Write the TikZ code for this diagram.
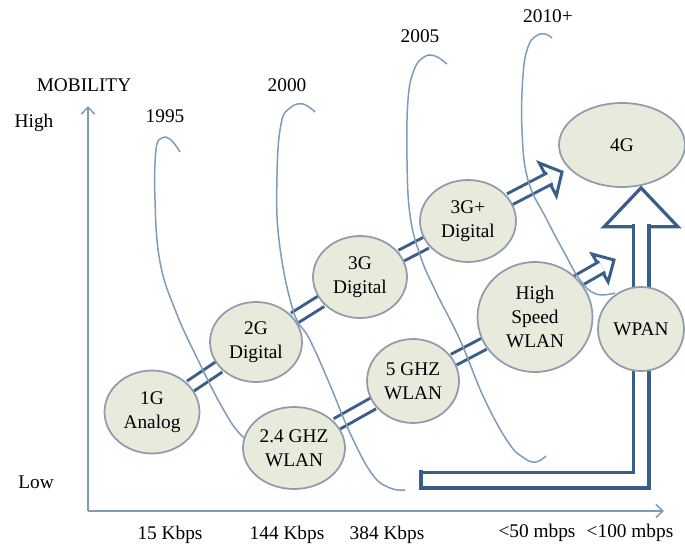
\documentclass[tikz,border=0pt]{standalone}
\usepackage{fontspec}
\setmainfont{Liberation Serif}
\usepackage{xcolor}
\usepackage{tikz}
\usetikzlibrary{positioning,calc,backgrounds,shapes.geometric,arrows.meta}
\definecolor{EraGrey}{HTML}{7F9BBA}
\definecolor{PipeBlue}{HTML}{3A5E8A}
\definecolor{BubbleFill}{HTML}{E8EADC}
\definecolor{BubbleEdge}{HTML}{8F9CAB}

\begin{document}
\begin{tikzpicture}[x=0.02cm, y=-0.02cm,
                    every node/.style={font=\fontsize{11}{13.5}\selectfont, align=center, inner sep=0pt},
                    bubble/.style={ellipse, draw=BubbleEdge, line width=0.035cm, fill=BubbleFill},
                    pipe/.style={draw=PipeBlue, line width=0.06cm, double=white, double distance=0.18cm},
                    bigpipe/.style={draw=PipeBlue, line width=0.065cm, double=white, double distance=0.25cm},
                    head/.style={draw=PipeBlue, line width=0.06cm, fill=white},
                    era/.style={draw=EraGrey, line width=0.03cm},
                    axis/.style={draw=EraGrey, line width=0.03cm, -{Straight Barb[length=0.14cm, width=0.26cm]}}]
  \useasboundingbox (0,0) rectangle (685,550);
  \node[bubble, minimum width=1.9cm, minimum height=1.66cm] (g1) at (152,412) {1G\\Analog};
  \node[bubble, minimum width=1.84cm, minimum height=1.6cm] (g2) at (256,342) {2G\\Digital};
  \node[bubble, minimum width=1.88cm, minimum height=1.64cm] (g3) at (360,277) {3G\\Digital};
  \node[bubble, minimum width=1.92cm, minimum height=1.64cm] (g3p) at (468,221) {3G+\\Digital};
  \node[bubble, minimum width=2.52cm, minimum height=1.68cm] (g4) at (622,145) {4G};
  \node[bubble, minimum width=2.04cm, minimum height=1.64cm] (w24) at (294,448) {2.4 GHZ\\WLAN};
  \node[bubble, minimum width=1.84cm, minimum height=1.68cm] (w5) at (413,381) {5 GHZ\\WLAN};
  \node[bubble, minimum width=2.3cm, minimum height=2.2cm] (whs) at (535,317) {High\\Speed\\WLAN};
  \node[bubble, minimum width=1.72cm, minimum height=1.68cm] (wpan) at (641,329) {WPAN};

  \node[anchor=base] (mob) at (84,92) {MOBILITY};
  \node[anchor=base] (hi) at (34,128) {High};
  \node[anchor=base] (lo) at (36,488) {Low};
  \node[anchor=base] (y95) at (165,123) {1995};
  \node[anchor=base] (y00) at (287,92) {2000};
  \node[anchor=base] (y05) at (420,43) {2005};
  \node[anchor=base] (y10) at (548,23) {2010+};
  \node[anchor=base] (r15) at (170,539) {15 Kbps};
  \node[anchor=base] (r144) at (287,539) {144 Kbps};
  \node[anchor=base] (r384) at (387,539) {384 Kbps};
  \node[anchor=base] (r50) at (537,537) {<50 mbps};
  \node[anchor=base] (r100) at (630,537) {<100 mbps};

  \coordinate (orig) at (88,511);
  \coordinate (ytop) at (88,106);
  \coordinate (xend) at (664,511);
  \draw[axis] (orig) -- (ytop);
  \draw[axis] (orig) -- (xend);

  \coordinate (t4g) at (562,172);
  \coordinate (ths) at (614,260);
  \coordinate (lowend) at (421,480);
  \coordinate (t4gb) at (wpan |- g4.south);

  \begin{scope}[on background layer]
    \draw[pipe] (g1) -- (g2);
    \draw[pipe] (g2) -- (g3);
    \draw[pipe] (g3) -- (g3p);
    \draw[pipe] (w24) -- (w5);
    \draw[pipe] (w5) -- (whs);
    \draw[head] ($(t4g)!0.32cm!(g3p)!0.37cm!90:(g3p)$) -- (t4g) -- ($(t4g)!0.32cm!(g3p)!0.37cm!-90:(g3p)$) -- cycle;
    \draw[pipe] (g3p) -- ($(t4g)!0.27cm!(g3p)$);
    \draw[head] ($(ths)!0.32cm!(whs.40)!0.32cm!90:(whs.40)$) -- (ths) -- ($(ths)!0.32cm!(whs.40)!0.32cm!-90:(whs.40)$) -- cycle;
    \draw[pipe] ($(whs.40)!-0.2cm!(ths)$) -- ($(ths)!0.27cm!(whs.40)$);
    \draw[head, line width=0.065cm] ($(t4gb)+(-37,39)$) -- (t4gb) -- ($(t4gb)+(37,39)$) -- cycle;
    \draw[bigpipe] (lowend) -| ($(t4gb)+(0,36)$);
    \draw[PipeBlue, line width=0.065cm] ($(lowend)+(0,-9.6)$) -- ($(lowend)+(0,9.6)$);

    \draw[era] plot[smooth, tension=0.7] coordinates {(180,152) (171,140) (162,138) (156,150) (155,200) (160,262) (176,312) (198,360) (222,407) (240,434) (256,444)};
    \draw[era] plot[smooth, tension=0.7] coordinates {(315,112) (303,104) (290,108) (281,124) (277,175) (279,240) (293,310) (310,340) (330,385) (350,433) (372,474) (390,488) (405,490)};
    \draw[era] plot[smooth, tension=0.7] coordinates {(447,64) (435,56) (424,57) (414,70) (408,100) (407,160) (410,215) (420,255) (435,290) (460,340) (484,398) (508,442) (524,458) (536,462) (546,456)};
    \draw[era] plot[smooth, tension=0.7] coordinates {(552,38) (545,34) (536,36) (528,47) (523,75) (522,130) (528,180) (547,220) (564,252) (580,280) (596,294) (615,293)};
  \end{scope}
\end{tikzpicture}
\end{document}
